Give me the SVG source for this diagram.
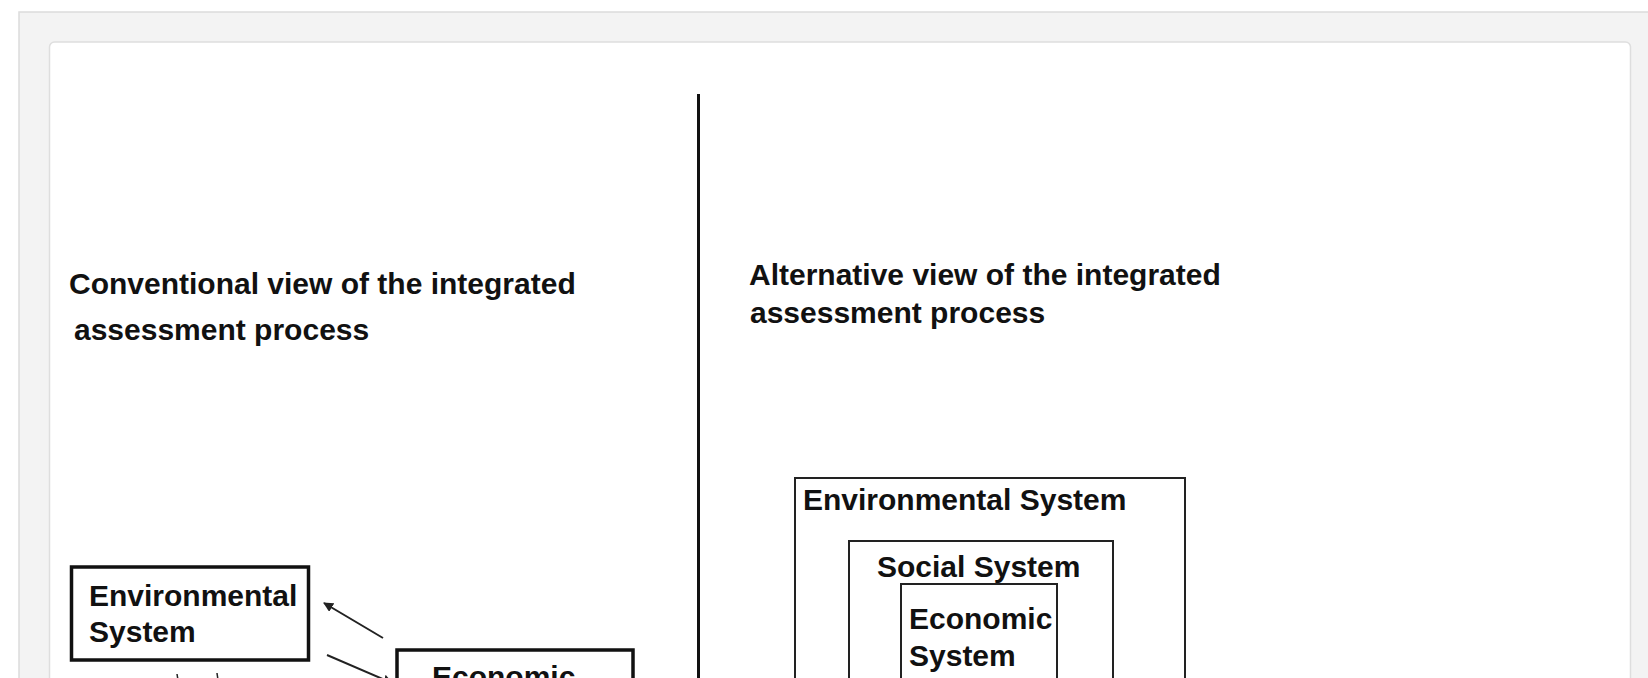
<svg xmlns="http://www.w3.org/2000/svg" width="1648" height="678" viewBox="0 0 1648 678">
  <style>
    .lbl { font-family: "Liberation Sans", Arial, sans-serif; font-weight: bold; font-size: 30px; fill: #111; }
    .thick { fill: #fff; stroke: #111; stroke-width: 3.5; }
    .thin { fill: none; stroke: #222; stroke-width: 2; }
    .conn { stroke: #222; stroke-width: 2; fill: none; marker-end: url(#head); }
  </style>
  <defs>
    <marker id="head" viewBox="0 0 10 10" refX="9" refY="5" markerWidth="5" markerHeight="5" orient="auto" markerUnits="strokeWidth">
      <path d="M0,0 L10,5 L0,10 z" fill="#222"/>
    </marker>
  </defs>

  <!-- page background and card -->
  <rect x="0" y="0" width="1648" height="678" fill="#fff"/>
  <rect x="19" y="12" width="1640" height="680" fill="#f3f3f3" stroke="#dcdcdc" stroke-width="1.5"/>
  <rect x="49.5" y="42" width="1581" height="660" rx="5" fill="#fff" stroke="#dedede" stroke-width="1.5"/>

  <!-- divider between the two views -->
  <line id="divider" x1="698.5" y1="94" x2="698.5" y2="690" stroke="#111" stroke-width="3"/>

  <!-- left: conventional view -->
  <g id="title-conventional">
    <text class="lbl" x="69" y="294">Conventional view of the integrated</text>
    <text class="lbl" x="74" y="340">assessment process</text>
  </g>

  <g id="env-system-left">
    <rect class="thick" x="71.5" y="567" width="237" height="93"/>
    <text class="lbl" x="89" y="606">Environmental</text>
    <text class="lbl" x="89" y="642">System</text>
  </g>

  <g id="econ-system-left">
    <rect class="thick" x="397" y="650" width="236" height="60"/>
    <text class="lbl" x="432" y="687">Economic</text>
  </g>

  <g id="connectors">
    <line class="conn" x1="383" y1="638" x2="324" y2="603"/>
    <line class="conn" x1="327" y1="655" x2="392" y2="683"/>
    <line x1="177" y1="674" x2="178" y2="680" stroke="#222" stroke-width="1.5"/>
    <line x1="217" y1="673" x2="218" y2="680" stroke="#222" stroke-width="1.5"/>
  </g>

  <!-- right: alternative (nested) view -->
  <g id="title-alternative">
    <text class="lbl" x="749" y="285">Alternative view of the integrated</text>
    <text class="lbl" x="750" y="323">assessment process</text>
  </g>

  <g id="env-system-right">
    <rect class="thin" x="795" y="478" width="390" height="240"/>
    <text class="lbl" x="803" y="510">Environmental System</text>
  </g>

  <g id="social-system">
    <rect class="thin" x="849" y="541" width="264" height="180"/>
    <text class="lbl" x="877" y="577">Social System</text>
  </g>

  <g id="econ-system-right">
    <rect class="thin" x="901" y="584" width="156" height="140"/>
    <text class="lbl" x="909" y="629">Economic</text>
    <text class="lbl" x="909" y="666">System</text>
  </g>
</svg>
